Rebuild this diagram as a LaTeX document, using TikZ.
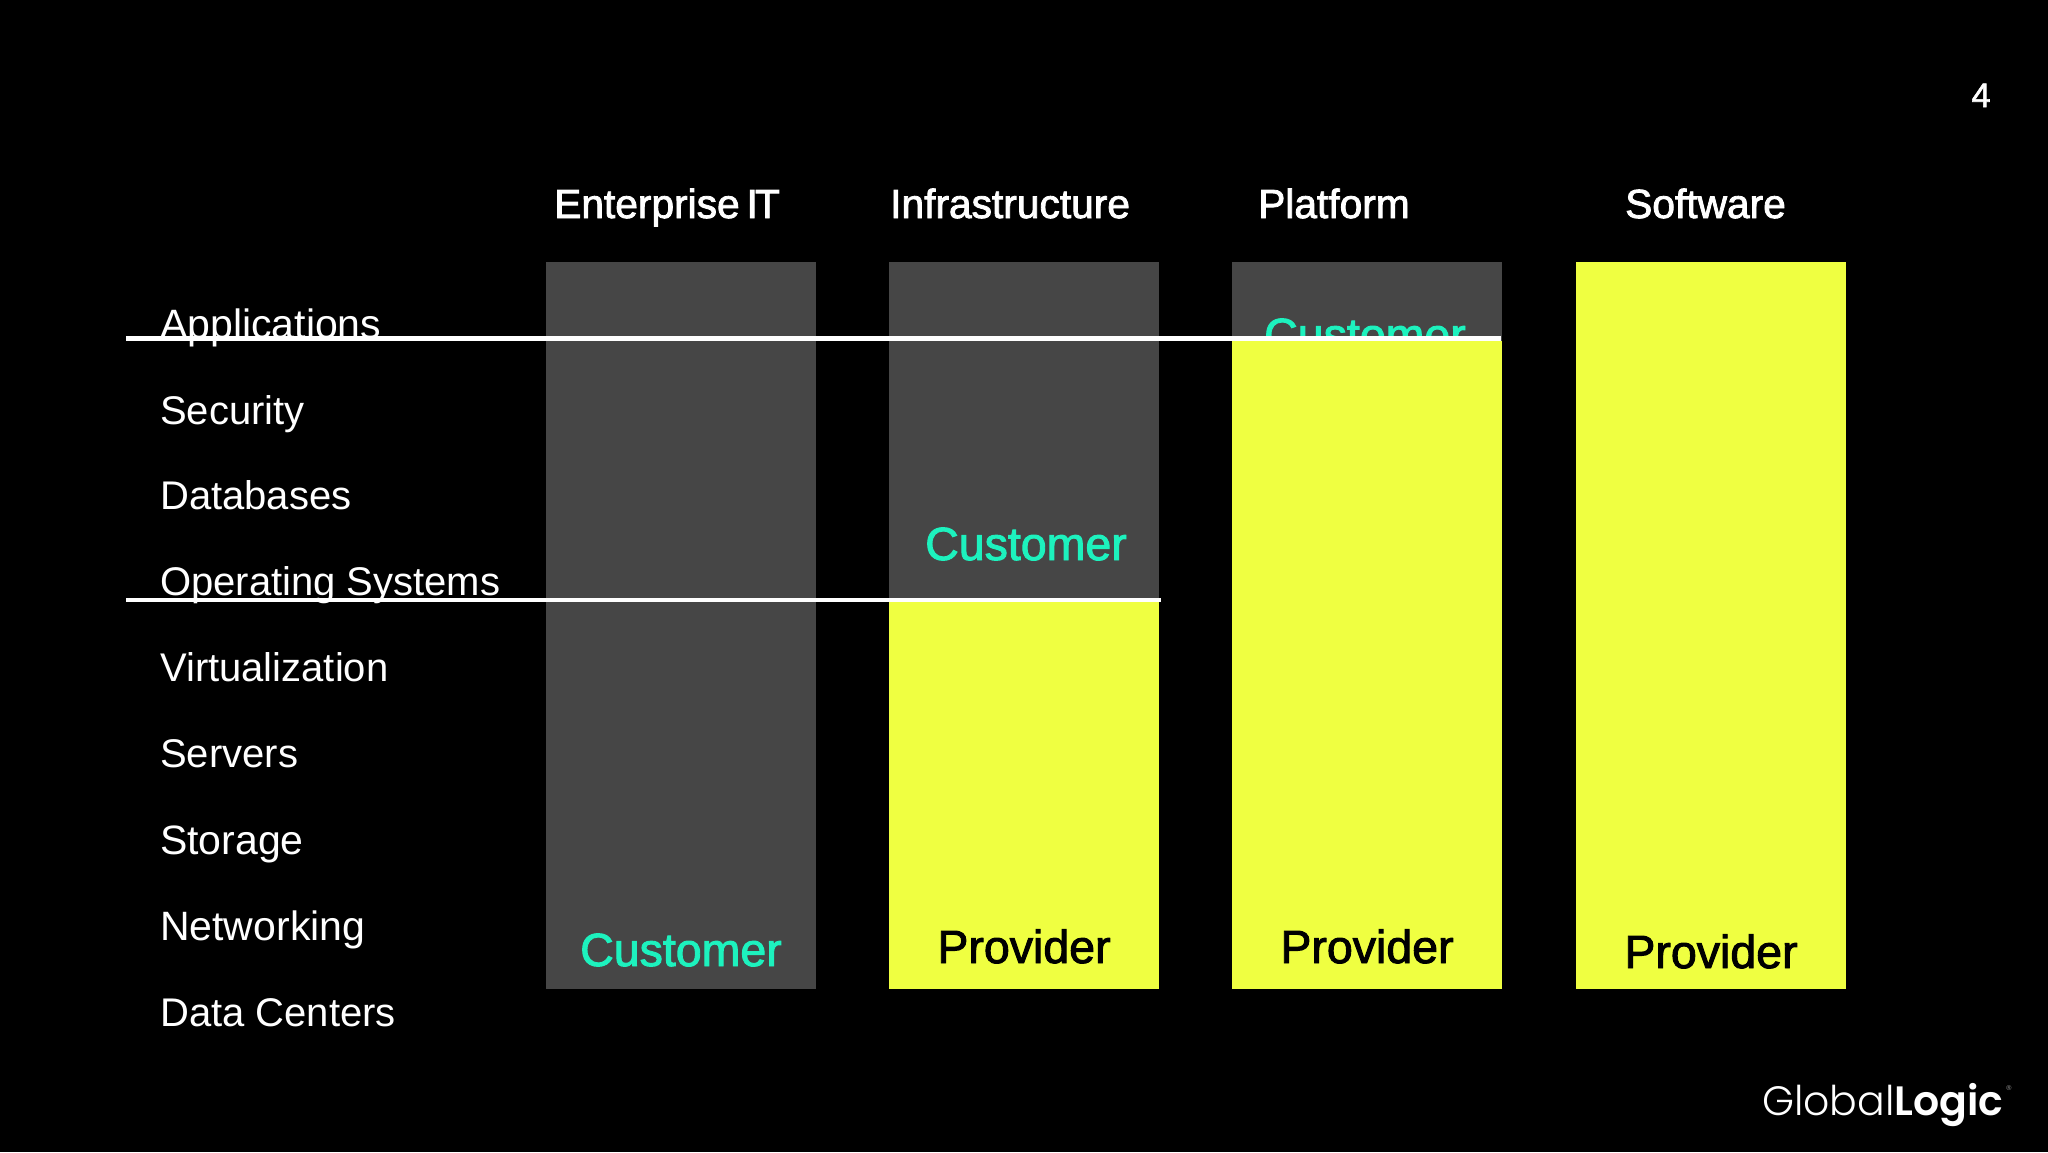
\documentclass[tikz,border=0pt]{standalone}
\usepackage{fontspec}
\setmainfont{Liberation Sans}
\newfontfamily\heavier[FakeBold=2]{Liberation Sans}
\newfontfamily\logolight[UprightFont={* Light}]{Poppins}
\newfontfamily\logobold[UprightFont={* SemiBold}]{Poppins}
\definecolor{graybar}{HTML}{464646}
\definecolor{lime}{HTML}{EFFF41}
\definecolor{teal}{HTML}{1DF2BE}
\tikzset{
 x=1pt,y=-1pt,
 lab/.style={text=white,anchor=base west,inner sep=0pt,font=\fontsize{40}{40}\selectfont},
 labwide/.style={lab,font=\fontsize{41}{41}\selectfont},
 head/.style={text=white,anchor=base west,inner sep=0pt,font=\fontsize{40.7}{41}\heavier},
 role/.style={anchor=base,inner sep=0pt,font=\fontsize{46.5}{46}\heavier},
 rule/.style={draw=white,line width=4.4pt}
}
\begin{document}
\begin{tikzpicture}
\fill[black] (0,0) rectangle (2048,1152);
\useasboundingbox (0,0) rectangle (2048,1152);
\node[anchor=base,text=white,inner sep=0pt,font=\fontsize{34}{34}\heavier] (num) at (1981,107) {4};
\node[head] (h1) at (554,218) {Enterprise\hspace{7pt}I\kern-3ptT};
\node[head] (h2) at (890,218) {Infrastructure};
\node[head] (h3) at (1258,218) {Platform};
\node[head] (h4) at (1625,218) {Software};
\fill[graybar] (546,262) rectangle (816,989);
\fill[graybar] (889,262) rectangle (1159,989);
\fill[graybar] (1232,262) rectangle (1502,989);
\node[role,text=teal] (c3) at (1365,351) {Customer};
\fill[lime] (889,601) rectangle (1159,989);
\fill[lime] (1232,341) rectangle (1502,989);
\fill[lime] (1576,262) rectangle (1846,989);
\node[role,text=teal] (c1) at (681,966) {Customer};
\node[role,text=teal] (c2) at (1026,560) {Customer};
\node[role,text=black] (p2) at (1024,963) {Provider};
\node[role,text=black] (p3) at (1367,963) {Provider};
\node[role,text=black] (p4) at (1711,968) {Provider};
\node[labwide] (l1) at (160,338) {Applications};
\node[lab] (l2) at (160,424) {Security};
\node[lab] (l3) at (160,509.5) {Databases};
\node[lab] (l4) at (160,595.5) {Operating Systems};
\node[lab] (l5) at (160,681.5) {Virtualization};
\node[lab] (l6) at (160,767.5) {Servers};
\node[labwide] (l7) at (160,854) {Storage};
\node[labwide] (l8) at (160,940) {Networking};
\node[lab] (l9) at (160,1026) {Data Centers};
\coordinate (r1a) at (126,338.5);
\coordinate (r1b) at (1501,338.5);
\coordinate (r2a) at (126,600);
\coordinate (r2b) at (1161,600);
\draw[rule] (r1a) -- (r1b);
\draw[rule] (r2a) -- (r2b);
\node[anchor=base west,text=white,inner sep=0pt,font=\fontsize{41}{41}\selectfont] (gl) at (1762,1115) {\logolight Global\logobold Logic};
\node[anchor=center,text=white!60!black,inner sep=0pt,font=\fontsize{7}{7}\selectfont] (reg) at (2009,1088) {®};
\end{tikzpicture}
\end{document}
